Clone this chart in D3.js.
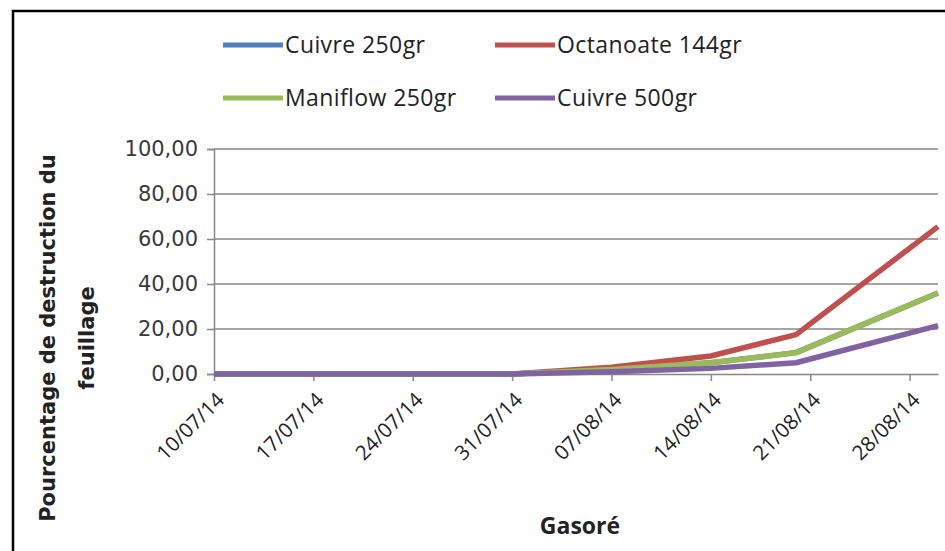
<!DOCTYPE html>
<html><head><meta charset="utf-8">
<script src="https://cdn.jsdelivr.net/npm/d3@7"></script>
<style>
html,body{margin:0;padding:0;background:#fff;}
svg{display:block;}
</style></head>
<body>
<svg id="chart" width="945" height="551"></svg>
<script>
// ---- data ----
const dates = ["10/07/14","17/07/14","24/07/14","31/07/14","07/08/14","14/08/14","20/08/14","30/08/14"];
const tickDates = ["10/07/14","17/07/14","24/07/14","31/07/14","07/08/14","14/08/14","21/08/14","28/08/14"];
const yTicks = [0,20,40,60,80,100];
const seriesNames = ["Cuivre 250gr","Octanoate 144gr","Maniflow 250gr","Cuivre 500gr"];
const seriesColors = ["#4F81BD","#C0504D","#9BBB59","#8064A2"];
const cuivre250 = [0,0,0,0,2,5,9.5,36];
const octanoate144 = [0,0,0,0,3,8,17.5,65.5];
const maniflow250 = [0,0,0,0,2,5,9.5,36];
const cuivre500 = [0,0,0,0,1,2.5,5,21.5];
const xTitle = "Gasoré";
const yTitle = ["Pourcentage de destruction du","feuillage"];

const parse = d3.timeParse("%d/%m/%y");
const fmt = d3.timeFormat("%d/%m/%y");
const seriesValues = [cuivre250, octanoate144, maniflow250, cuivre500];
const series = seriesNames.map((n,i)=>({name:n,color:seriesColors[i],
  values:dates.map((d,j)=>({date:parse(d),v:seriesValues[i][j]}))}));

const svg = d3.select("#chart");
// outer frame (right and bottom edges fall outside the picture)
svg.append("rect").attr("x",13).attr("y",11).attr("width",1000).attr("height",600)
  .attr("fill","#fff").attr("stroke","#000").attr("stroke-width",2.5);

const pL=214, pR=938, pT=149, pB=374;
const x = d3.scaleTime().domain([parse(dates[0]), parse(dates[dates.length-1])]).range([pL,pR]);
const y = d3.scaleLinear().domain([0,100]).range([pB,pT]);

const gridColor="#878787";
// gridlines
svg.append("g").selectAll("line").data(yTicks.filter(d=>d>0)).join("line")
  .attr("x1",pL).attr("x2",pR).attr("y1",d=>y(d)).attr("y2",d=>y(d))
  .attr("stroke",gridColor).attr("stroke-width",1.5);

// y axis
const yAxis = svg.append("g").attr("transform",`translate(${pL},0)`)
  .call(d3.axisLeft(y).tickValues(yTicks).tickSize(7).tickPadding(9)
    .tickFormat(d=>d.toFixed(2).replace(".",",")));
yAxis.select(".domain").attr("stroke",gridColor).attr("stroke-width",1.5);
yAxis.selectAll(".tick line").attr("stroke",gridColor).attr("stroke-width",1.5);
yAxis.selectAll(".tick text").attr("fill","#3a3a3a").style("font-family","DejaVu Sans")
  .style("font-size","21px");

// x axis
const xAxis = svg.append("g").attr("transform",`translate(0,${pB})`)
  .call(d3.axisBottom(x).tickValues(tickDates.map(parse)).tickSize(7).tickSizeOuter(0).tickFormat(fmt));
xAxis.select(".domain").attr("stroke",gridColor).attr("stroke-width",1.5);
xAxis.selectAll(".tick line").attr("stroke",gridColor).attr("stroke-width",1.5);
xAxis.selectAll(".tick text")
  .attr("fill","#222").style("font-family","Open Sans").style("font-size","20.5px")
  .attr("text-anchor","end").attr("dy","0.35em").attr("y",0)
  .attr("transform","translate(6,22) rotate(-45)");

// lines
const line = d3.line().x(d=>x(d.date)).y(d=>y(d.v));
svg.append("g").selectAll("path").data(series).join("path")
  .attr("d",d=>line(d.values)).attr("fill","none")
  .attr("stroke",d=>d.color).attr("stroke-width",5.5).attr("stroke-linejoin","round");

// titles
svg.append("text").attr("x",580).attr("y",534).attr("text-anchor","middle")
  .style("font-family","Open Sans").style("font-weight","bold").style("font-size","23px")
  .attr("fill","#222").text(xTitle);
const yt = svg.append("text").attr("transform","translate(55,338) rotate(-90)")
  .attr("text-anchor","middle").style("font-family","DejaVu Sans").style("font-weight","bold")
  .style("font-size","21px").attr("fill","#222");
yTitle.forEach((t,i)=>yt.append("tspan").attr("x",0).attr("dy",i===0?0:"1.85em").text(t));

// legend
const legPos = [[223,45],[495,45],[223,98],[495,98]];
const leg = svg.append("g").selectAll("g").data(series).join("g")
  .attr("transform",(d,i)=>`translate(${legPos[i][0]},${legPos[i][1]})`);
leg.append("line").attr("x1",0).attr("x2",60).attr("y1",0).attr("y2",0)
  .attr("stroke",d=>d.color).attr("stroke-width",5);
leg.append("text").attr("x",62).attr("dy","0.35em")
  .style("font-family","Open Sans").style("font-size","23px").style("letter-spacing","0.4px")
  .attr("fill","#222").text(d=>d.name);
</script>
</body></html>
